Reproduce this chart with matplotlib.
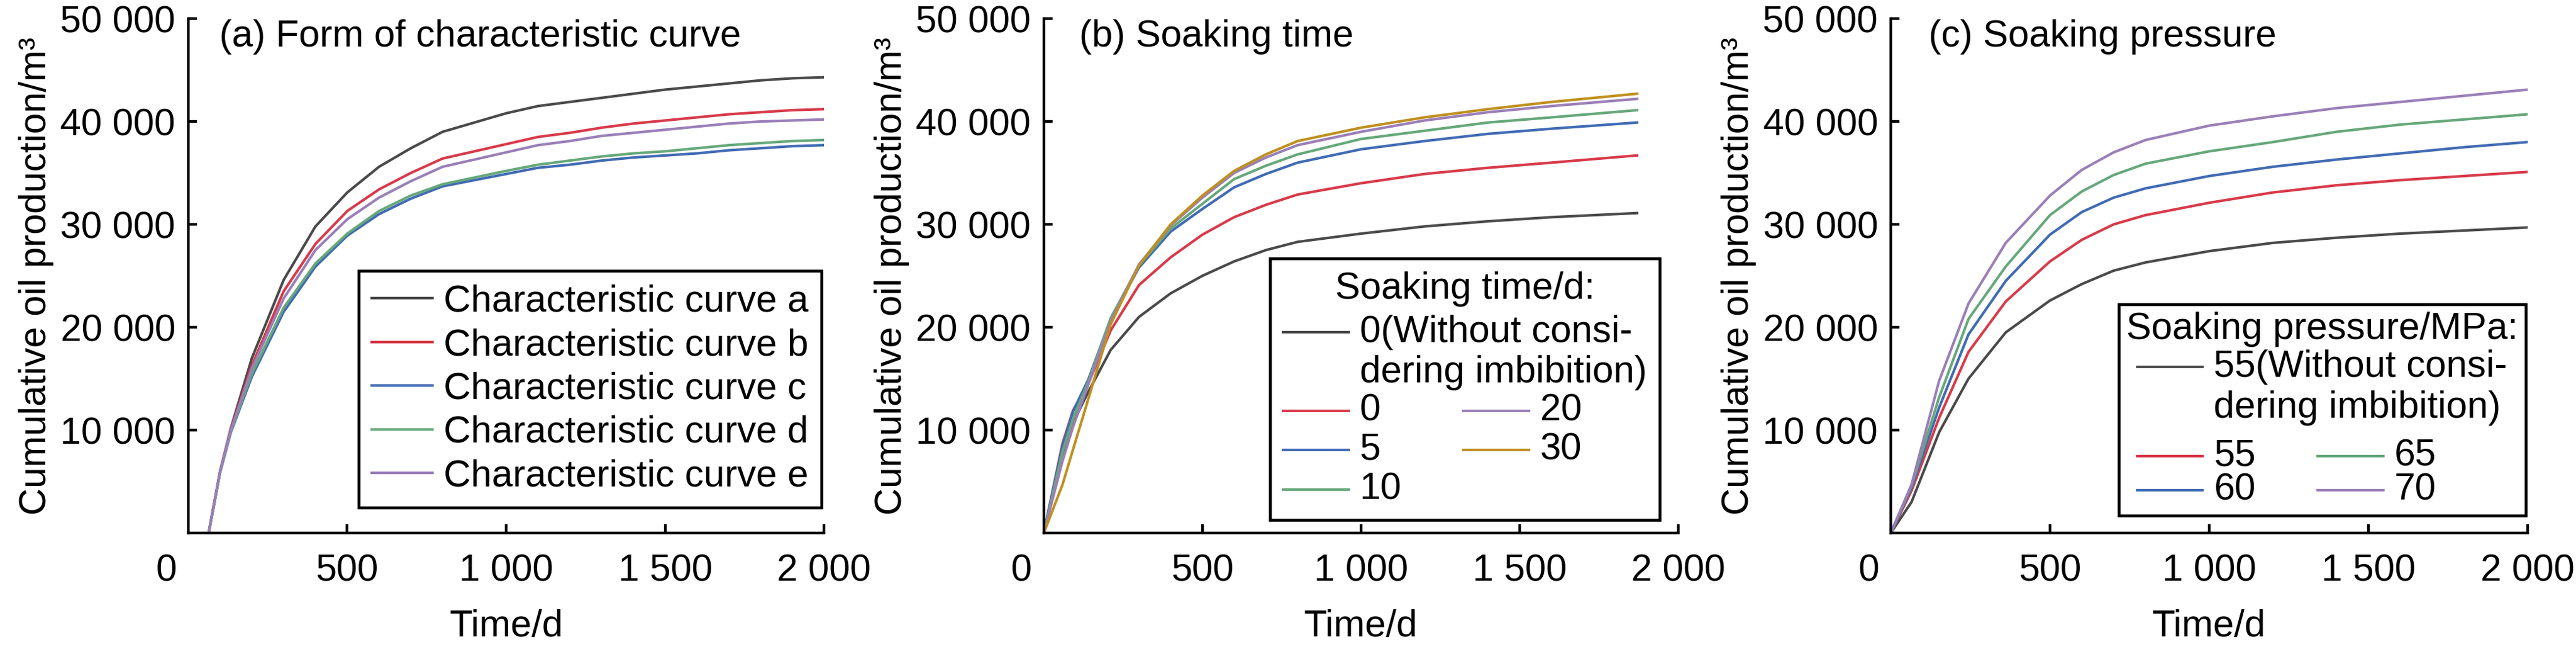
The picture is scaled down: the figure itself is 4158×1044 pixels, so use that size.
import matplotlib
matplotlib.use("Agg")
import matplotlib.pyplot as plt
from matplotlib.lines import Line2D
from matplotlib.offsetbox import AnchoredOffsetbox, DrawingArea, HPacker, TextArea, VPacker

plt.rcParams["font.family"] = ["Liberation Sans", "DejaVu Sans"]

FS = 14.6
LW = 1.0

GRAY = "#4a4a4a"
RED = "#d83a4a"
BLUE = "#416bb4"
GREEN = "#66a87a"
PURPLE = "#9a7fb8"
GOLD = "#bf9020"

# (a) Form of characteristic curve
days_a = [64, 100, 134, 200, 300, 400, 500, 600, 700, 800, 1000, 1100, 1200,
          1300, 1400, 1500, 1600, 1700, 1800, 1900, 2000]
curve_a = [0, 6000, 10200, 17000, 24600, 29800, 33100, 35600, 37400, 39000, 40800,
           41500, 41900, 42300, 42700, 43100, 43400, 43700, 44000, 44200, 44300]
curve_b = [0, 6000, 10100, 16300, 23500, 28100, 31300, 33400, 35000, 36400, 37800,
           38500, 38900, 39400, 39800, 40100, 40400, 40700, 40900, 41100, 41200]
curve_c = [0, 5900, 9800, 15200, 21500, 25900, 28900, 31000, 32500, 33700, 34900,
           35500, 35800, 36200, 36500, 36700, 36900, 37200, 37400, 37600, 37700]
curve_d = [0, 5900, 9900, 15500, 21900, 26200, 29100, 31300, 32800, 33900, 35200,
           35800, 36200, 36600, 36900, 37100, 37400, 37700, 37900, 38100, 38200]
curve_e = [0, 6000, 10000, 16000, 22800, 27500, 30500, 32600, 34200, 35600, 37000,
           37700, 38100, 38600, 38900, 39200, 39500, 39800, 40000, 40100, 40200]
labels_a = ["Characteristic curve a", "Characteristic curve b", "Characteristic curve c",
            "Characteristic curve d", "Characteristic curve e"]

# (b) Soaking time
days_b = [0, 59, 92, 140, 211, 300, 400, 500, 600, 700, 800, 1000, 1200, 1400, 1600, 1870]
soak_none = [0, 7500, 10700, 13700, 17800, 21000, 23300, 25000, 26400, 27500, 28300,
             29100, 29800, 30300, 30700, 31100]
soak_0 = [0, 8700, 11900, 14500, 19700, 24100, 26800, 29000, 30700, 31900, 32900,
          34000, 34900, 35500, 36000, 36700]
soak_5 = [0, 8500, 11800, 14900, 20800, 25800, 29300, 31500, 33600, 34900, 36000,
          37300, 38100, 38800, 39300, 39900]
soak_10 = [0, 7900, 11100, 14700, 20900, 26000, 29600, 32000, 34400, 35700, 36800,
           38300, 39100, 39900, 40400, 41100]
soak_20 = [0, 7000, 10300, 14400, 20600, 26100, 29900, 32600, 35000, 36500, 37700,
           39000, 40100, 40900, 41500, 42200]
soak_30 = [0, 4700, 8100, 13000, 20300, 26000, 30000, 32800, 35200, 36800, 38100,
           39400, 40400, 41200, 41900, 42700]

# (c) Soaking pressure
days_c = [0, 65, 152, 244, 361, 500, 600, 700, 800, 1000, 1200, 1400, 1600, 1800, 2000]
pres_none = [0, 3000, 9800, 15000, 19500, 22600, 24200, 25500, 26300, 27400, 28200,
             28700, 29100, 29400, 29700]
pres_55 = [0, 4100, 11200, 17600, 22500, 26400, 28500, 30000, 30900, 32100, 33100,
           33800, 34300, 34700, 35100]
pres_60 = [0, 4400, 12200, 19300, 24500, 29000, 31200, 32600, 33500, 34700, 35600,
           36300, 36900, 37500, 38000]
pres_65 = [0, 4600, 13200, 20800, 25900, 30900, 33200, 34800, 35900, 37100, 38000,
           39000, 39700, 40200, 40700]
pres_70 = [0, 4700, 14800, 22300, 28200, 32800, 35300, 37000, 38200, 39600, 40500,
           41300, 41900, 42500, 43100]

x_ticks = [500, 1000, 1500, 2000]
x_ticklabels = ["500", "1 000", "1 500", "2 000"]
y_ticks = [10000, 20000, 30000, 40000, 50000]
y_ticklabels = ["10 000", "20 000", "30 000", "40 000", "50 000"]


def style_axes(ax, title, title_x):
    ax.set_xlim(0, 2000)
    ax.set_ylim(0, 50000)
    ax.spines["top"].set_visible(False)
    ax.spines["right"].set_visible(False)
    for s in ("left", "bottom"):
        ax.spines[s].set_linewidth(1.05)
    ax.set_xticks(x_ticks)
    ax.set_xticklabels(x_ticklabels)
    ax.set_yticks(y_ticks)
    ax.set_yticklabels(y_ticklabels)
    ax.tick_params(axis="both", direction="in", length=3.4, width=1.05, labelsize=FS)
    ax.tick_params(axis="x", pad=8)
    ax.tick_params(axis="y", pad=5)
    ax.annotate("0", xy=(0, 0), xycoords="axes fraction", xytext=(-8.6, -8),
                textcoords="offset points", ha="center", va="top", fontsize=FS)
    ax.set_xlabel("Time/d", fontsize=FS)
    ax.set_ylabel("Cumulative oil production/m³", fontsize=FS)
    ax.xaxis.set_label_coords(0.5, -0.148)
    ax.yaxis.set_label_coords(-0.2115, 0.5)
    ax.text(title_x, 0.964, title, transform=ax.transAxes, ha="left", va="center",
            fontsize=FS)


def key(color, height):
    da = DrawingArea(25.4, height, 0, 0)
    da.add_artist(Line2D([0, 25.4], [height / 2, height / 2], color=color, lw=LW))
    return da


def grouped_legend(ax, title, first, left_rows, right_rows, anchor, pad,
                   title_sep, block_sep, row_sep):
    props = dict(fontsize=FS)

    def row(color, label):
        return HPacker(children=[key(color, FS * 0.6), TextArea(label, textprops=props)],
                       sep=4.3, align="center", pad=0)

    head = TextArea(title, textprops=props)
    top = HPacker(children=[key(first[0], FS * 0.93),
                            TextArea(first[1], textprops=props)],
                  sep=4.3, align="top", pad=0)
    left = VPacker(children=[row(c, l) for c, l in left_rows], sep=row_sep,
                   align="left", pad=0)
    right = VPacker(children=[row(c, l) for c, l in right_rows], sep=row_sep,
                    align="left", pad=0)
    cols = HPacker(children=[left, right], sep=24, align="top", pad=0)
    inner = VPacker(children=[top, cols], sep=block_sep, align="left", pad=0)
    body = VPacker(children=[head, inner], sep=title_sep, align="center", pad=0)
    box = AnchoredOffsetbox(loc="lower right", child=body, pad=pad, borderpad=0,
                            frameon=True, bbox_to_anchor=anchor,
                            bbox_transform=ax.transAxes, prop=dict(size=FS))
    box.patch.set_edgecolor("black")
    box.patch.set_linewidth(1.1)
    ax.add_artist(box)


fig = plt.figure(figsize=(13.86, 3.48), dpi=300)
ax_a = fig.add_axes([0.0731, 0.1762, 0.2468, 0.7950])
ax_b = fig.add_axes([0.4052, 0.1762, 0.2463, 0.7950])
ax_c = fig.add_axes([0.7340, 0.1762, 0.2472, 0.7950])

# (a)
for ys, color, label in zip([curve_a, curve_b, curve_c, curve_d, curve_e],
                            [GRAY, RED, BLUE, GREEN, PURPLE], labels_a):
    ax_a.plot(days_a, ys, color=color, lw=LW, label=label)
style_axes(ax_a, "(a) Form of characteristic curve", 0.049)
leg = ax_a.legend(loc="lower right", bbox_to_anchor=(0.996, 0.05), borderaxespad=0,
                  fontsize=FS, handlelength=1.6, handletextpad=0.3, labelspacing=0.22,
                  borderpad=0.35, fancybox=False, edgecolor="black", framealpha=1)
leg.get_frame().set_linewidth(1.1)

# (b)
for ys, color in zip([soak_none, soak_0, soak_5, soak_10, soak_20, soak_30],
                     [GRAY, RED, BLUE, GREEN, PURPLE, GOLD]):
    ax_b.plot(days_b, ys, color=color, lw=LW)
style_axes(ax_b, "(b) Soaking time", 0.056)
grouped_legend(ax_b, "Soaking time/d:",
               (GRAY, "0(Without consi-\ndering imbibition)"),
               [(RED, "0"), (BLUE, "5"), (GREEN, "10")],
               [(PURPLE, "20"), (GOLD, "30")],
               anchor=(0.971, 0.025), pad=0.35, title_sep=3, block_sep=1, row_sep=1.5)

# (c)
for ys, color in zip([pres_none, pres_55, pres_60, pres_65, pres_70],
                     [GRAY, RED, BLUE, GREEN, PURPLE]):
    ax_c.plot(days_c, ys, color=color, lw=LW)
style_axes(ax_c, "(c) Soaking pressure", 0.059)
grouped_legend(ax_c, "Soaking pressure/MPa:",
               (GRAY, "55(Without consi-\ndering imbibition)"),
               [(RED, "55"), (BLUE, "60")],
               [(GREEN, "65"), (PURPLE, "70")],
               anchor=(0.997, 0.034), pad=0.2, title_sep=1, block_sep=5, row_sep=-0.5)

fig.savefig("out.png", dpi=300)
